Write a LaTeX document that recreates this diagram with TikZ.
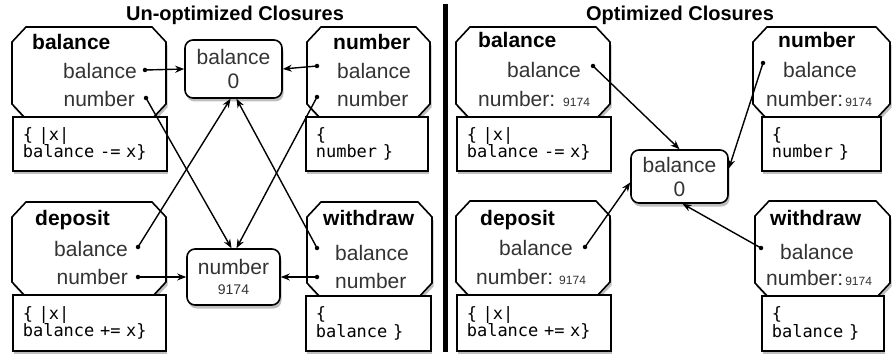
\documentclass[tikz,border=0pt]{standalone}
\usepackage{fontspec}
\setmainfont{Liberation Sans}
\setmonofont{DejaVu Sans Mono}
\usetikzlibrary{shadows,arrows.meta}

\begin{document}
\begin{tikzpicture}[x=1pt,y=-1pt,
        closure/.style n args={4}{draw,line width=1.6pt,fill=white,
            drop shadow={opacity=.5,shadow xshift=1.5pt,shadow yshift=-3.5pt},
            insert path={(#1+14,#2) -- (#3-14,#2) -- (#3,#2+15) -- (#3,#4-15) -- (#3-14,#4)
                -- (#1+14,#4) -- (#1,#4-15) -- (#1,#2+15) -- cycle}},
        code/.style={rectangle,draw,line width=1.6pt,fill=white,anchor=north west,inner xsep=10pt,inner ysep=0pt,
            align=left,font=\fontsize{17}{17.5}\selectfont\ttfamily,
            drop shadow={opacity=.5,shadow xshift=1.5pt,shadow yshift=-3.5pt}},
        valbox/.style={rectangle,rounded corners=8pt,draw,line width=1.6pt,fill=white,align=center,inner sep=0pt,
            font=\fontsize{21}{24}\selectfont,text=black!80,
            drop shadow={opacity=.5,shadow xshift=1.5pt,shadow yshift=-3.5pt}},
        title/.style={anchor=base west,inner sep=0pt,font=\fontsize{21}{24}\selectfont\bfseries},
        field/.style={inner sep=0pt,font=\fontsize{21}{24}\selectfont,text=black!80},
        heading/.style={inner sep=0pt,font=\fontsize{20}{24}\selectfont\bfseries},
        dot/.style={circle,fill,inner sep=0pt,minimum size=4.5pt},
        link/.style={line width=1.4pt,-{Stealth[length=9pt,width=7pt]}}]
    \useasboundingbox (0,0) rectangle (893,358);

    % headings and divider
    \node[heading] (uhead) at (235,15) {Un-optimized Closures};
    \node[heading] (ohead) at (680,15) {Optimized Closures};
    \draw[line width=5pt] (445,4) -- (445,352);

    % ---- un-optimized closures ----
    \path[closure={12}{27}{166}{119}];
    \node[code,text width=134pt,minimum height=54pt] (ubal-c) at (12,116) {\{ |x|\\balance -= x\}};
    \node[title] (ubal-t) at (32,50) {balance};
    \node[field,anchor=east] (ubal-bl) at (137,71) {balance};
    \node[field,anchor=east] (ubal-nl) at (135,99) {number};
    \node[dot] (ubal-b) at (145,70) {};
    \node[dot] (ubal-n) at (146,98) {};

    \path[closure={307}{27}{430}{119}];
    \node[code,text width=102pt,minimum height=54pt] (unum-c) at (305,116) {\{\\number \}};
    \node[title] (unum-t) at (333,50) {number};
    \node[field,anchor=west] (unum-bl) at (337,71) {balance};
    \node[field,anchor=west] (unum-nl) at (337,99) {number};
    \node[dot] (unum-b) at (317,66) {};
    \node[dot] (unum-n) at (317,97) {};

    \path[closure={12}{202}{166}{297}];
    \node[code,text width=133pt,minimum height=56pt] (udep-c) at (12,294) {\{ |x|\\balance += x\}};
    \node[title] (udep-t) at (35,225) {deposit};
    \node[field,anchor=east] (udep-bl) at (128,249) {balance};
    \node[field,anchor=east] (udep-nl) at (128,277) {number};
    \node[dot] (udep-b) at (138,247) {};
    \node[dot] (udep-n) at (138,277) {};

    \path[closure={307}{202}{432}{298}];
    \node[code,text width=105pt,minimum height=55pt] (uwd-c) at (305,295) {\{\\balance \}};
    \node[title] (uwd-t) at (323,225) {withdraw};
    \node[field,anchor=west] (uwd-bl) at (335,253) {balance};
    \node[field,anchor=west] (uwd-nl) at (335,281) {number};
    \node[dot] (uwd-b) at (317,248) {};
    \node[dot] (uwd-n) at (317,277) {};

    \node[valbox,minimum width=97pt,minimum height=58pt] (ubalv) at (233.5,69) {balance\\0};
    \node[valbox,minimum width=93pt,minimum height=56pt] (unumv) at (233.5,277) {number\\[-4pt]{\fontsize{14}{16}\selectfont 9174}};

    \draw[link] (ubal-b.center) -- (ubalv.west);
    \draw[link] (unum-b.center) -- (ubalv.east);
    \draw[link] (ubal-n.center) -- ([xshift=-2pt]unumv.north);
    \draw[link] (unum-n.center) -- ([xshift=3pt]unumv.north);
    \draw[link] (udep-b.center) -- ([xshift=-3pt]ubalv.south);
    \draw[link] (uwd-b.center) -- ([xshift=3pt]ubalv.south);
    \draw[link] (udep-n.center) -- (unumv.west);
    \draw[link] (uwd-n.center) -- (unumv.east);

    % ---- optimized closures ----
    \path[closure={456}{27}{610}{119}];
    \node[code,text width=134pt,minimum height=54pt] (obal-c) at (456,116) {\{ |x|\\balance -= x\}};
    \node[title] (obal-t) at (478,48) {balance};
    \node[field,anchor=east] (obal-bl) at (581,70) {balance};
    \node[field,anchor=west] (obal-nl) at (478,99) {number:\hspace{8pt}{\fontsize{12}{12}\selectfont 9174}};
    \node[dot] (obal-b) at (593,66) {};

    \path[closure={753}{27}{890}{119}];
    \node[code,text width=99pt,minimum height=54pt] (onum-c) at (761,116) {\{\\number \}};
    \node[title] (onum-t) at (778,48) {number};
    \node[field,anchor=west] (onum-bl) at (783,70) {balance};
    \node[field,anchor=west] (onum-nl) at (766,99) {number:\hspace{2pt}{\fontsize{12}{12}\selectfont 9174}};
    \node[dot] (onum-b) at (763,63) {};

    \path[closure={456}{201}{610}{297}];
    \node[code,text width=134pt,minimum height=56pt] (odep-c) at (456,294) {\{ |x|\\balance += x\}};
    \node[title] (odep-t) at (480,225) {deposit};
    \node[field,anchor=east] (odep-bl) at (573,248) {balance};
    \node[field,anchor=west] (odep-nl) at (476,277) {number:\hspace{6pt}{\fontsize{12}{12}\selectfont 9174}};
    \node[dot] (odep-b) at (585,247) {};

    \path[closure={755}{201}{890}{298}];
    \node[code,text width=102pt,minimum height=55pt] (owd-c) at (761,295) {\{\\balance \}};
    \node[title] (owd-t) at (770,225) {withdraw};
    \node[field,anchor=west] (owd-bl) at (780,252) {balance};
    \node[field,anchor=west] (owd-nl) at (766,278) {number:\hspace{2pt}{\fontsize{12}{12}\selectfont 9174}};
    \node[dot] (owd-b) at (761,248) {};

    \node[valbox,minimum width=97pt,minimum height=53pt] (obalv) at (679.5,176.5) {balance\\0};

    \draw[link] (obal-b.center) -- (obalv.north);
    \draw[link] (onum-b.center) -- ([yshift=8pt]obalv.east);
    \draw[link] (odep-b.center) -- ([yshift=-6pt]obalv.west);
    \draw[link] (owd-b.center) -- ([xshift=3pt]obalv.south);
\end{tikzpicture}
\end{document}
